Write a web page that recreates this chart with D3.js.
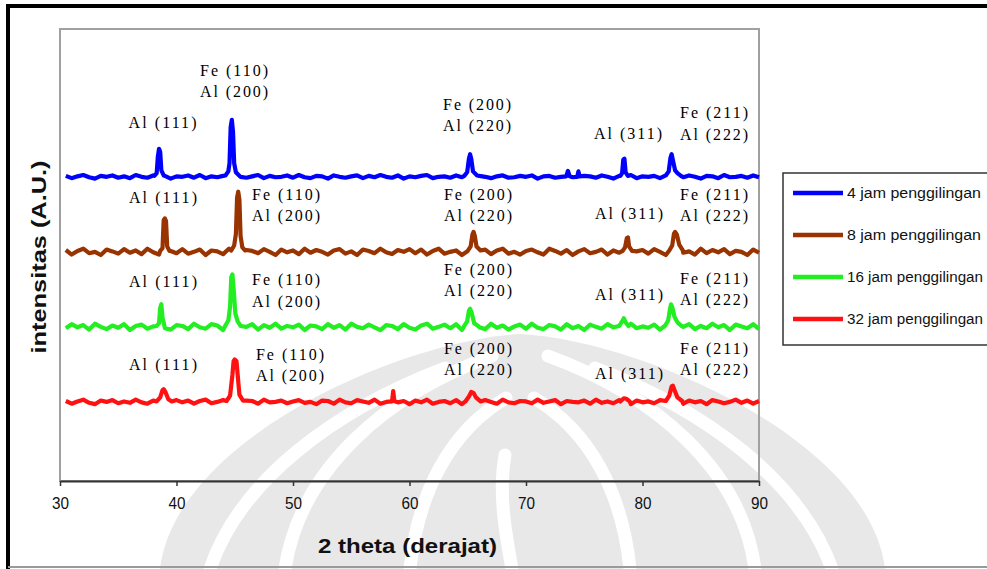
<!DOCTYPE html>
<html>
<head>
<meta charset="utf-8">
<script src="https://cdn.jsdelivr.net/npm/d3@7"></script>
<style>
  body { margin: 0; background: #fff; }
  svg { display: block; }
</style>
</head>
<body>
<svg id="chart" width="987" height="569"></svg>
<script>
// ---- data -------------------------------------------------------------
const seriesNames = ["4 jam penggilingan", "8 jam penggilingan", "16 jam penggilingan", "32 jam penggilingan"];
const seriesColors = ["#0000ff", "#993300", "#22ee22", "#ff1111"];

// vertical stacking offset of each pattern (A.U.)
const offsets = [673, 507, 341, 175];

// background counts, one value every 0.5 degree from 30.5 to 90
const gridStart = 30.5, gridStep = 0.5;
const noise4 = [
  2,-3,1,4,-1,-4,2,0,3,-2,1,-3,4,0,-2,3,-1,2,-4,1,
  0,3,-2,4,-3,1,-1,2,-4,3,0,-2,1,4,-3,2,-1,0,3,-2,
  4,-1,-3,2,1,-4,3,0,-2,1,3,-3,2,-1,4,0,-2,3,-4,1,
  -1,2,4,-3,0,1,-2,3,-1,4,-4,2,0,-3,1,3,-2,-1,2,0,
  3,-4,1,2,-2,0,4,-1,-3,2,1,-2,3,0,-4,2,-1,4,-3,1,
  0,2,-3,1,4,-2,-1,3,0,-4,2,1,-3,4,-1,0,2,-2,3,-1];
const noise8 = [
  4,-6,2,7,-3,0,-7,5,1,-4,6,-2,3,-5,7,-1,-6,4,2,-3,
  6,-4,0,5,-7,3,1,-5,7,-2,-6,4,2,-3,6,0,-7,5,-1,3,
  -5,7,-2,4,0,-6,3,6,-4,1,-7,5,2,-3,7,-1,-5,4,0,6,
  -3,5,-6,2,7,-4,0,3,-7,6,1,-2,5,-5,3,7,-4,0,-6,2,
  5,-1,-6,7,2,-4,4,-7,1,6,-3,0,5,-6,3,-2,7,-5,1,4,
  -4,6,0,-7,3,5,-2,1,-6,7,-3,4,-1,6,-5,2,0,-7,5,-2];
const noise16 = [
  -3,6,-1,4,-6,7,0,-5,3,-2,6,-7,2,5,-4,1,7,-3,-6,4,
  2,-5,7,-1,-4,6,3,-7,1,5,-3,0,6,-6,4,-2,7,-4,2,-1,
  5,-7,3,1,-5,6,-2,4,-6,7,0,-3,5,-1,-7,4,2,-5,6,-2,
  -6,3,7,-4,0,5,-3,6,-7,2,4,-1,-5,7,-2,3,-6,1,5,-4,
  7,-2,-5,4,1,-6,6,-3,2,-7,5,0,-4,6,-1,3,-5,7,-3,1,
  -2,5,-6,3,7,-4,0,6,-5,2,-3,7,-1,4,-7,5,1,-3,6,-5];
const noise32 = [
  2,-4,1,5,-2,-5,3,0,4,-3,1,-2,5,-1,-4,3,0,2,-5,4,
  -1,3,-4,2,5,-3,0,4,-2,1,-5,3,2,-4,5,-1,0,3,-3,1,
  4,-2,0,-5,3,2,-4,5,-1,-3,4,1,-2,5,-4,0,3,-1,2,-5,
  3,-1,5,-4,0,2,-3,4,-5,1,3,-2,4,0,-4,5,-1,-3,2,1,
  -3,5,-2,1,4,-5,2,0,-1,3,-4,5,-2,1,-3,4,0,-5,3,-1,
  1,-3,4,-2,5,0,-4,3,-1,2,-5,4,1,-3,0,5,-2,3,-4,2];

// diffraction peak profiles: [2theta, counts above background]
const peaks4 = [
  [[38.1,2],[38.3,8],[38.4,45],[38.5,62],[38.6,55],[38.7,14],[38.9,3]],
  [[44.2,3],[44.45,12],[44.55,30],[44.65,110],[44.75,126],[44.85,100],[44.95,30],[45.1,10],[45.4,2]],
  [[64.7,2],[64.95,10],[65.1,40],[65.2,50],[65.3,40],[65.45,12],[65.8,3]],
  [[73.45,1],[73.6,13],[73.75,1]],
  [[74.4,0],[74.5,12],[74.6,1]],
  [[78.1,2],[78.25,8],[78.35,38],[78.45,40],[78.55,10],[78.75,2]],
  [[82.0,3],[82.25,12],[82.4,42],[82.5,50],[82.6,38],[82.8,14],[83.0,8],[83.3,2]]];
const peaks8 = [
  [[38.6,2],[38.8,8],[38.9,70],[39.0,74],[39.1,68],[39.2,12],[39.4,2]],
  [[44.7,3],[44.95,14],[45.1,40],[45.2,120],[45.3,133],[45.4,115],[45.5,35],[45.65,10],[45.9,3]],
  [[65.0,2],[65.25,12],[65.4,38],[65.5,44],[65.6,36],[65.75,12],[66.1,3]],
  [[78.3,2],[78.5,10],[78.65,30],[78.75,32],[78.85,12],[79.1,2]],
  [[82.3,3],[82.55,14],[82.7,40],[82.8,44],[82.95,38],[83.15,16],[83.45,4]]];
const peaks16 = [
  [[38.3,2],[38.5,8],[38.6,42],[38.7,50],[38.8,20],[38.95,4]],
  [[44.2,3],[44.45,14],[44.6,45],[44.7,110],[44.8,116],[44.9,85],[45.05,30],[45.25,12],[45.5,2]],
  [[64.7,2],[64.95,12],[65.1,36],[65.2,40],[65.35,30],[65.55,8],[65.9,2]],
  [[78.0,2],[78.25,12],[78.4,19],[78.55,10],[78.8,2]],
  [[81.95,3],[82.2,14],[82.35,38],[82.45,50],[82.55,44],[82.75,22],[83.0,10],[83.35,2]]];
const peaks32 = [
  [[38.3,1],[38.6,10],[38.8,26],[38.9,28],[39.05,22],[39.3,6],[39.6,1]],
  [[44.3,2],[44.6,14],[44.8,60],[44.9,90],[45.0,94],[45.15,90],[45.25,60],[45.4,16],[45.7,3]],
  [[58.5,1],[58.6,24],[58.7,2]],
  [[64.8,1],[65.1,12],[65.3,22],[65.5,20],[65.7,10],[66.1,1]],
  [[78.1,1],[78.4,8],[78.6,7],[78.9,1]],
  [[82.0,2],[82.3,14],[82.5,34],[82.6,36],[82.75,26],[83.0,10],[83.4,2]]];

// peak assignments: label lines, 2theta of the label centre, height (A.U.)
const labels4 = [
  { lines: ["Al (111)"], x: 38.8, y: 794 },
  { lines: ["Fe (110)", "Al (200)"], x: 44.94, y: 909 },
  { lines: ["Fe (200)", "Al (220)"], x: 65.8, y: 834 },
  { lines: ["Al (311)"], x: 78.76, y: 770 },
  { lines: ["Fe (211)", "Al (222)"], x: 86.14, y: 816 }];
const labels8 = [
  { lines: ["Al (111)"], x: 38.84, y: 628 },
  { lines: ["Fe (110)", "Al (200)"], x: 49.4, y: 635 },
  { lines: ["Fe (200)", "Al (220)"], x: 65.88, y: 635 },
  { lines: ["Al (311)"], x: 78.84, y: 593 },
  { lines: ["Fe (211)", "Al (222)"], x: 86.14, y: 635 }];
const labels16 = [
  { lines: ["Al (111)"], x: 38.84, y: 442 },
  { lines: ["Fe (110)", "Al (200)"], x: 49.4, y: 445 },
  { lines: ["Fe (200)", "Al (220)"], x: 65.88, y: 469 },
  { lines: ["Al (311)"], x: 78.84, y: 412 },
  { lines: ["Fe (211)", "Al (222)"], x: 86.14, y: 449 }];
const labels32 = [
  { lines: ["Al (111)"], x: 38.84, y: 257 },
  { lines: ["Fe (110)", "Al (200)"], x: 49.74, y: 281 },
  { lines: ["Fe (200)", "Al (220)"], x: 65.88, y: 294 },
  { lines: ["Al (311)"], x: 78.84, y: 239 },
  { lines: ["Fe (211)", "Al (222)"], x: 86.14, y: 294 }];

const xTicks = [30, 40, 50, 60, 70, 80, 90];
const xTitle = "2 theta (derajat)";
const yTitle = "intensitas (A.U.)";

const noiseSets = [noise4, noise8, noise16, noise32];
const peakSets = [peaks4, peaks8, peaks16, peaks32];
const labelSets = [labels4, labels8, labels16, labels32];

// ---- layout ------------------------------------------------------------
const svg = d3.select("#chart");
const plot = { left: 60, top: 29, right: 759, bottom: 481 };

const x = d3.scaleLinear().domain([30, 90]).range([plot.left, plot.right]);
const y = d3.scaleLinear().domain([0, 1000]).range([plot.bottom, plot.top]);

// faint emblem in the page background
const mark = svg.append("g").attr("class", "emblem");
mark.append("path")
  .attr("d", "M160,569 C175,440 400,340 520,334 C640,340 870,440 885,569 Z")
  .attr("fill", "#e8e8e8");
const bands = [
  "M285,569 C300,470 385,395 492,356",
  "M755,569 C742,470 655,395 548,356",
  "M410,569 C418,490 452,430 506,398",
  "M630,569 C622,490 588,430 534,398",
  "M505,455 C498,495 506,535 512,569",
  "M210,569 C240,480 335,410 445,368",
  "M832,569 C800,480 705,410 595,368"
];
mark.selectAll("path.band").data(bands).join("path")
  .attr("class", "band")
  .attr("d", d => d)
  .attr("fill", "none")
  .attr("stroke", "#ffffff")
  .attr("stroke-width", 13)
  .attr("stroke-linecap", "round");

// outer frame
svg.append("line").attr("x1", 8).attr("x2", 8).attr("y1", 4).attr("y2", 569)
  .attr("stroke", "#000").attr("stroke-width", 4);
svg.append("line").attr("x1", 6).attr("x2", 987).attr("y1", 6).attr("y2", 6)
  .attr("stroke", "#000").attr("stroke-width", 4);
svg.append("line").attr("x1", 8).attr("x2", 987).attr("y1", 567).attr("y2", 567)
  .attr("stroke", "#9a9a9a").attr("stroke-width", 2);

// plot area border
svg.append("rect")
  .attr("x", plot.left).attr("y", plot.top)
  .attr("width", plot.right - plot.left).attr("height", plot.bottom - plot.top)
  .attr("fill", "none").attr("stroke", "#a0a0a0").attr("stroke-width", 2);

// build each pattern: background grid points outside the peaks, plus peak profiles
function patternPoints(i) {
  const peaks = peakSets[i];
  const ranges = peaks.map(p => [p[0][0], p[p.length - 1][0]]);
  const pts = [];
  noiseSets[i].forEach((v, k) => {
    const t = gridStart + k * gridStep;
    if (!ranges.some(r => t >= r[0] && t <= r[1])) pts.push([t, v]);
  });
  peaks.forEach(p => p.forEach(d => pts.push(d)));
  pts.sort((a, b) => a[0] - b[0]);
  return pts.map(d => [d[0], offsets[i] + d[1]]);
}

const line = d3.line().x(d => x(d[0])).y(d => y(d[1]));

const gLines = svg.append("g");
seriesNames.forEach((name, i) => {
  gLines.append("path")
    .datum(patternPoints(i))
    .attr("d", line)
    .attr("fill", "none")
    .attr("stroke", seriesColors[i])
    .attr("stroke-width", 4.2)
    .attr("stroke-linejoin", "round");
});

// peak labels
const gLab = svg.append("g")
  .attr("font-family", "'Liberation Serif', 'Times New Roman', serif")
  .attr("font-size", 16)
  .attr("fill", "#000");
labelSets.forEach(set => {
  set.forEach(l => {
    const t = gLab.append("text")
      .attr("x", x(l.x)).attr("y", y(l.y))
      .attr("text-anchor", "middle");
    l.lines.forEach((s, j) => {
      t.append("tspan")
        .attr("x", x(l.x))
        .attr("dy", j === 0 ? "0.35em" : "1.36em")
        .attr("textLength", 68)
        .attr("lengthAdjust", "spacing")
        .text(s);
    });
  });
});

// x axis
const xAxis = d3.axisBottom(x).tickValues(xTicks).tickSizeInner(5).tickSizeOuter(0).tickPadding(12);
const gx = svg.append("g").attr("transform", `translate(0,${plot.bottom})`).call(xAxis);
gx.select(".domain").attr("stroke", "#333").attr("stroke-width", 2);
gx.selectAll(".tick line").attr("stroke", "#333").attr("stroke-width", 1.5);
gx.selectAll(".tick text")
  .attr("font-family", "'Liberation Sans', Arial, sans-serif")
  .attr("font-size", 16).attr("fill", "#111")
  .attr("textLength", 17).attr("lengthAdjust", "spacingAndGlyphs");

// axis titles
svg.append("text")
  .attr("x", 318).attr("y", 553)
  .attr("font-family", "'Liberation Sans', Arial, sans-serif")
  .attr("font-weight", "bold").attr("font-size", 20).attr("fill", "#111")
  .attr("textLength", 179).attr("lengthAdjust", "spacingAndGlyphs")
  .text(xTitle);
svg.append("text")
  .attr("transform", "translate(46,257) rotate(-90)")
  .attr("text-anchor", "middle")
  .attr("font-family", "'Liberation Sans', Arial, sans-serif")
  .attr("font-weight", "bold").attr("font-size", 20).attr("fill", "#111")
  .attr("textLength", 193).attr("lengthAdjust", "spacingAndGlyphs")
  .text(yTitle);

// legend
const legend = svg.append("g");
legend.append("rect")
  .attr("x", 783).attr("y", 173).attr("width", 230).attr("height", 172)
  .attr("fill", "#fff").attr("stroke", "#333").attr("stroke-width", 1.5);
const legRow = d3.scalePoint().domain(seriesNames).range([193, 319]);
seriesNames.forEach((name, i) => {
  const ly = legRow(name);
  legend.append("line")
    .attr("x1", 793).attr("x2", 843).attr("y1", ly).attr("y2", ly)
    .attr("stroke", seriesColors[i]).attr("stroke-width", 4.5);
  legend.append("text")
    .attr("x", 847).attr("y", ly).attr("dy", "0.35em")
    .attr("font-family", "'Liberation Sans', Arial, sans-serif")
    .attr("font-size", 14).attr("fill", "#111")
    .attr("textLength", i < 2 ? 134 : 136).attr("lengthAdjust", "spacingAndGlyphs")
    .text(name);
});
</script>
</body>
</html>
